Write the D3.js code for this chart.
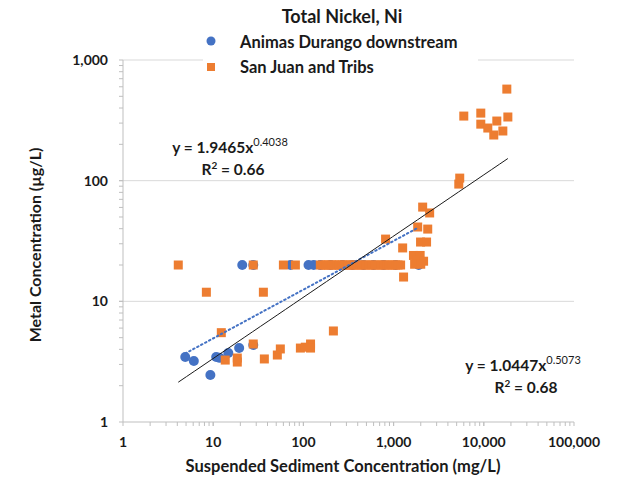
<!DOCTYPE html>
<html>
<head>
<meta charset="utf-8">
<script src="https://cdn.jsdelivr.net/npm/d3@7/dist/d3.min.js"></script>
<style>
  body { margin: 0; background: #fff; }
  svg { display: block; }
  text { font-family: Lato, "Open Sans", sans-serif; font-weight: bold; fill: #1a1a1a; }
</style>
</head>
<body>
<svg id="chart" width="623" height="478"></svg>
<script>
// ---- Data ----
const title = "Total Nickel, Ni";
const seriesNames = ["Animas Durango downstream", "San Juan and Tribs"];
const xTitle = "Suspended Sediment Concentration (mg/L)";
const yTitle = "Metal Concentration (\u00b5g/L)";

const xTicks = [1, 10, 100, 1000, 10000, 100000];
const yTicks = [1, 10, 100, 1000];

// Animas Durango downstream
const blueX = [4.9, 6.1, 9.3, 10.8, 11.8, 14.7, 19.4, 27.8,
               21, 27.8, 72, 114, 130, 154, 200, 271, 350, 464, 600, 774, 1050, 1900];
const blueY = [3.46, 3.2, 2.45, 3.46, 3.4, 3.73, 4.1, 4.35,
               20, 20, 20, 20, 20, 20, 20, 20, 20, 20, 20, 20, 20, 20];

// San Juan and Tribs
const orangeX = [4.1, 8.4, 36, 12.3, 27.8, 13.6, 18.5, 18.5, 36.9, 51.4, 55.5, 92.6, 105, 120, 120, 215,
                 27.8, 60, 81.5,
                 154, 165, 178, 190, 205, 220, 235, 250, 270, 290, 310, 335, 360, 390, 420, 450, 490,
                 530, 570, 620, 670, 720, 780, 840, 900, 970, 1050, 1120, 1196,
                 815, 2100, 2510, 1850, 2390, 1990, 2320, 1260,
                 1660, 1970, 1800, 2150, 1710, 2000, 1290,
                 5280, 5410, 18000, 6000, 9260, 9260, 11080, 13940, 18480, 12900, 16260];
const orangeY = [20, 11.9, 11.9, 5.5, 4.43, 3.26, 3.39, 3.14, 3.33, 3.59, 4.03, 4.1, 4.17, 4.43, 4.1, 5.68,
                 20, 20, 20,
                 20, 20, 20, 20, 20, 20, 20, 20, 20, 20, 20, 20, 20, 20, 20, 20, 20,
                 20, 20, 20, 20, 20, 20, 20, 20, 20, 20, 20, 20,
                 32.8, 60.4, 54, 41.3, 39.7, 31, 31, 27.7,
                 24, 24, 22, 21.5, 20.3, 20.3, 15.9,
                 93.7, 105, 574, 343, 363, 294, 273, 312, 337, 239, 258];

// Power-law trendlines  y = a * x^b
const blueFit = { a: 1.9465, b: 0.4038, r2: "0.66" };
const orangeFit = { a: 1.0447, b: 0.5073, r2: "0.68" };

// ---- Layout ----
const svg = d3.select("#chart");
const plotL = 123, plotR = 574, plotT = 60, plotB = 422;
const blue = "#4472C4", orange = "#ED7D31";

const x = d3.scaleLog().domain([1, 100000]).range([plotL, plotR]);
const y = d3.scaleLog().domain([1, 1000]).range([plotB, plotT]);

// gridlines
svg.append("g").selectAll("line").data(yTicks.filter(d => d > 1)).join("line")
  .attr("x1", plotL).attr("x2", plotR)
  .attr("y1", d => y(d)).attr("y2", d => y(d))
  .attr("stroke", "#d9d9d9").attr("stroke-width", 1);

function minorValues(lo, hi) {
  const out = [];
  for (let p = lo; p < hi; p *= 10) for (let k = 1; k <= 10; k++) out.push(p * k);
  return out;
}

// Y axis
const yAxisG = svg.append("g").attr("transform", `translate(${plotL},0)`);
yAxisG.append("line").attr("x1", 0).attr("x2", 0).attr("y1", plotT).attr("y2", plotB).attr("stroke", "#bfbfbf");
yAxisG.selectAll("line.minor").data(minorValues(1, 1000)).join("line").attr("class", "minor")
  .attr("x1", -4).attr("x2", 0).attr("y1", d => y(d)).attr("y2", d => y(d))
  .attr("stroke", "#bfbfbf");
yAxisG.selectAll("text").data(yTicks).join("text")
  .attr("x", -15).attr("y", d => y(d)).attr("dy", "0.35em")
  .attr("text-anchor", "end").style("font-size", "14px")
  .text(d => d3.format(",")(d));

// X axis
const xAxisG = svg.append("g").attr("transform", `translate(0,${plotB})`);
xAxisG.append("line").attr("x1", plotL).attr("x2", plotR).attr("y1", 0).attr("y2", 0).attr("stroke", "#bfbfbf");
xAxisG.selectAll("line.minor").data(minorValues(1, 100000)).join("line").attr("class", "minor")
  .attr("x1", d => x(d)).attr("x2", d => x(d)).attr("y1", 0).attr("y2", 4)
  .attr("stroke", "#bfbfbf");
xAxisG.selectAll("text").data(xTicks).join("text")
  .attr("x", d => x(d)).attr("y", 25)
  .attr("text-anchor", "middle").style("font-size", "14px")
  .text(d => d3.format(",")(d));

// axis titles
svg.append("text").attr("x", 343).attr("y", 472)
  .attr("text-anchor", "middle").style("font-size", "16.5px").text(xTitle);
svg.append("text").attr("transform", "translate(41,245) rotate(-90)")
  .attr("text-anchor", "middle").style("font-size", "16px").text(yTitle);

// markers
const blueData = blueX.map((v, i) => ({ x: v, y: blueY[i] }));
const orangeData = orangeX.map((v, i) => ({ x: v, y: orangeY[i] }));

svg.append("g").selectAll("circle").data(blueData).join("circle")
  .attr("cx", d => x(d.x)).attr("cy", d => y(d.y)).attr("r", 5)
  .attr("fill", blue);

const sq = 9;
svg.append("g").selectAll("rect").data(orangeData).join("rect")
  .attr("x", d => x(d.x) - sq / 2).attr("y", d => y(d.y) - sq / 2)
  .attr("width", sq).attr("height", sq)
  .attr("fill", orange);

// trendlines
function fitLine(fit, xs) {
  const [lo, hi] = d3.extent(xs);
  const pts = d3.range(0, 41).map(i => {
    const xv = Math.pow(10, Math.log10(lo) + (Math.log10(hi) - Math.log10(lo)) * i / 40);
    return [x(xv), y(fit.a * Math.pow(xv, fit.b))];
  });
  return d3.line()(pts);
}
svg.append("path").attr("d", fitLine(blueFit, blueX))
  .attr("fill", "none").attr("stroke", blue).attr("stroke-width", 2)
  .attr("stroke-dasharray", "1.5,3").attr("stroke-linecap", "round");
svg.append("path").attr("d", fitLine(orangeFit, orangeX))
  .attr("fill", "none").attr("stroke", "#1a1a1a").attr("stroke-width", 1);

// equations
function equation(fit, cx, cy) {
  const t = svg.append("text").attr("x", cx).attr("y", cy)
    .attr("text-anchor", "middle").style("font-size", "15.5px");
  t.append("tspan").text(`y = ${fit.a.toFixed(4)}x`);
  t.append("tspan").attr("dy", "-7").style("font-size", "11px").style("font-weight", "normal").text(fit.b.toFixed(4));
  const r = svg.append("text").attr("x", cx + 3).attr("y", cy + 22)
    .attr("text-anchor", "middle").style("font-size", "15.5px");
  r.append("tspan").text("R");
  r.append("tspan").attr("dy", "-6").style("font-size", "10px").text("2");
  r.append("tspan").attr("dy", "6").text(` = ${fit.r2}`);
}
equation(blueFit, 230, 153);
equation(orangeFit, 523, 371);

// title
svg.append("text").attr("x", 342).attr("y", 23).attr("text-anchor", "middle")
  .style("font-size", "18px").text(title);

// legend
const lg = svg.append("g");
lg.append("rect").attr("x", 203).attr("y", 29).attr("width", 275).attr("height", 50).attr("fill", "#fff");
lg.append("circle").attr("cx", 211).attr("cy", 41).attr("r", 4.5).attr("fill", blue);
lg.append("rect").attr("x", 207).attr("y", 63).attr("width", 8).attr("height", 8).attr("fill", orange);
lg.append("text").attr("x", 240).attr("y", 42).attr("dy", "0.35em").style("font-size", "16.5px").text(seriesNames[0]);
lg.append("text").attr("x", 240).attr("y", 67).attr("dy", "0.35em").style("font-size", "16.5px").text(seriesNames[1]);
</script>
</body>
</html>
